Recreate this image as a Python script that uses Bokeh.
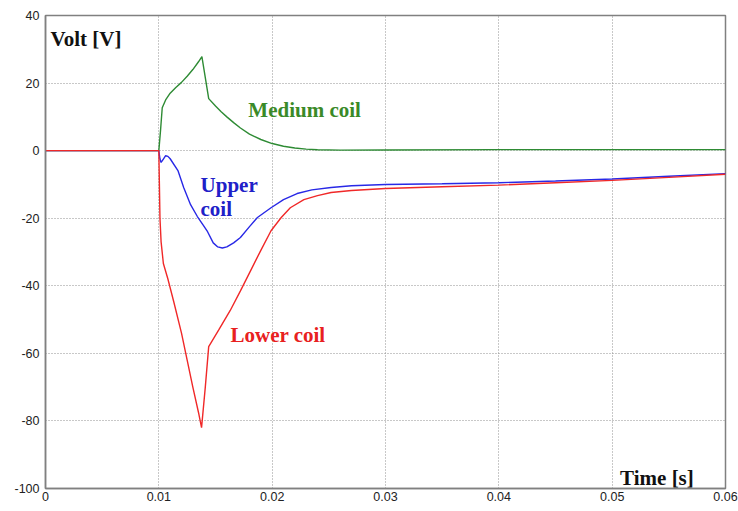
from bokeh.plotting import figure
from bokeh.models import Range1d, FixedTicker, CustomJSTickFormatter, Label
from bokeh.embed import file_html
from bokeh.resources import INLINE

# ---- data ----
t_medium = [0, 0.0100, 0.01015, 0.0103, 0.0106, 0.0110, 0.0115, 0.0120, 0.0125, 0.0130,
            0.0135, 0.0138, 0.0144, 0.0150, 0.0155, 0.0160, 0.0166, 0.0172, 0.0180, 0.0190,
            0.0200, 0.0210, 0.0220, 0.0230, 0.0240, 0.0260, 0.0300, 0.0400, 0.0500, 0.0600]
v_medium = [0, 0, 6, 12.7, 15, 17, 18.7, 20.2, 22, 24,
            26.3, 27.8, 15.4, 13.2, 11.5, 10, 8.3, 6.7, 4.9, 3.3,
            2.1, 1.3, 0.8, 0.45, 0.25, 0.15, 0.2, 0.3, 0.3, 0.3]

t_upper = [0, 0.0100, 0.0101, 0.0102, 0.0104, 0.0106, 0.0108, 0.0110, 0.0117, 0.0122,
           0.0128, 0.0134, 0.0139, 0.0143, 0.0148, 0.0152, 0.0156, 0.0160, 0.0166, 0.0172,
           0.0180, 0.0187, 0.0199, 0.0210, 0.0222, 0.0235, 0.0252, 0.0270, 0.0300, 0.0350,
           0.0400, 0.0450, 0.0500, 0.0550, 0.0600]
v_upper = [0, 0, -2.5, -3.5, -2.5, -1.5, -1.7, -2.4, -6, -11,
           -16, -19.5, -22, -24, -27.3, -28.5, -28.8, -28.5, -27.3, -25.7,
           -22.5, -19.8, -16.9, -14.5, -12.7, -11.6, -10.9, -10.4, -10, -9.8,
           -9.5, -9, -8.4, -7.6, -6.8]

t_lower = [0, 0.0100, 0.01005, 0.0101, 0.0102, 0.0104, 0.0108, 0.0113, 0.0120, 0.0125,
           0.0130, 0.0135, 0.01377, 0.0141, 0.0144, 0.0153, 0.0163, 0.0172, 0.0181, 0.0190,
           0.0199, 0.0208, 0.0216, 0.0228, 0.0240, 0.0252, 0.0270, 0.0300, 0.0350, 0.0400,
           0.0450, 0.0500, 0.0550, 0.0600]
v_lower = [0, 0, -10, -20, -27, -33.4, -38, -44.5, -54, -62,
           -70, -77.5, -82, -70, -58, -53, -47.3, -41.5, -35.5, -29.5,
           -23.7, -19.8, -16.9, -14.5, -13.3, -12.4, -11.8, -11.2, -10.7, -10.2,
           -9.5, -8.8, -7.9, -7]

x_ticks = [0, 0.01, 0.02, 0.03, 0.04, 0.05, 0.06]
y_ticks = [40, 20, 0, -20, -40, -60, -80, -100]

# ---- figure ----
p = figure(width=738, height=511, output_backend="svg", toolbar_location=None,
           x_range=Range1d(0, 0.06), y_range=Range1d(-100, 40),
           min_border_left=45, min_border_right=13, min_border_top=15, min_border_bottom=23)
p.background_fill_color = "white"
p.border_fill_color = "white"
p.outline_line_color = "#808080"
p.outline_line_width = 1.5

for ax in (p.xaxis[0], p.yaxis[0]):
    ax.axis_line_color = "#808080"
    ax.axis_line_width = 1.5
    ax.major_tick_in = 0
    ax.major_tick_out = 0
    ax.minor_tick_line_color = None
    ax.major_label_text_font = "Liberation Sans"
    ax.major_label_text_font_size = "12.5px"
    ax.major_label_text_color = "#222222"

p.xaxis.ticker = FixedTicker(ticks=x_ticks)
p.yaxis.ticker = FixedTicker(ticks=y_ticks)
p.xaxis.formatter = CustomJSTickFormatter(code="return tick == 0 ? '0' : tick.toFixed(2);")
p.yaxis.formatter = CustomJSTickFormatter(code="return tick.toFixed(0);")
p.xaxis.major_label_standoff = 3
p.yaxis.major_label_standoff = 6

p.xgrid.grid_line_color = "#909090"
p.ygrid.grid_line_color = "#909090"
p.xgrid.grid_line_dash = "1 2"
p.ygrid.grid_line_dash = "1 2"
p.xgrid.grid_line_width = 1
p.ygrid.grid_line_width = 1

p.line(t_medium, v_medium, line_color="#2e8b34", line_width=1.4)
p.line(t_upper, v_upper, line_color="#2828e6", line_width=1.4)
p.line(t_lower, v_lower, line_color="#f02828", line_width=1.4)

font = "Liberation Serif"
def lab(x, y, text, color):
    p.add_layout(Label(x=x, y=y, text=text, text_color=color, text_font=font,
                       text_font_size="21px", text_font_style="bold",
                       text_baseline="alphabetic", text_align="left"))

lab(0.00044, 33.1, "Volt [V]", "#111111")
lab(0.0507, -97, "Time [s]", "#111111")
lab(0.0179, 12.1, "Medium coil", "#3a8a28")
lab(0.01368, -10.1, "Upper", "#2020c8")
lab(0.01368, -17.2, "coil", "#2020c8")
lab(0.01632, -54.7, "Lower coil", "#e82020")

open("out.html", "w").write(file_html(p, INLINE))
